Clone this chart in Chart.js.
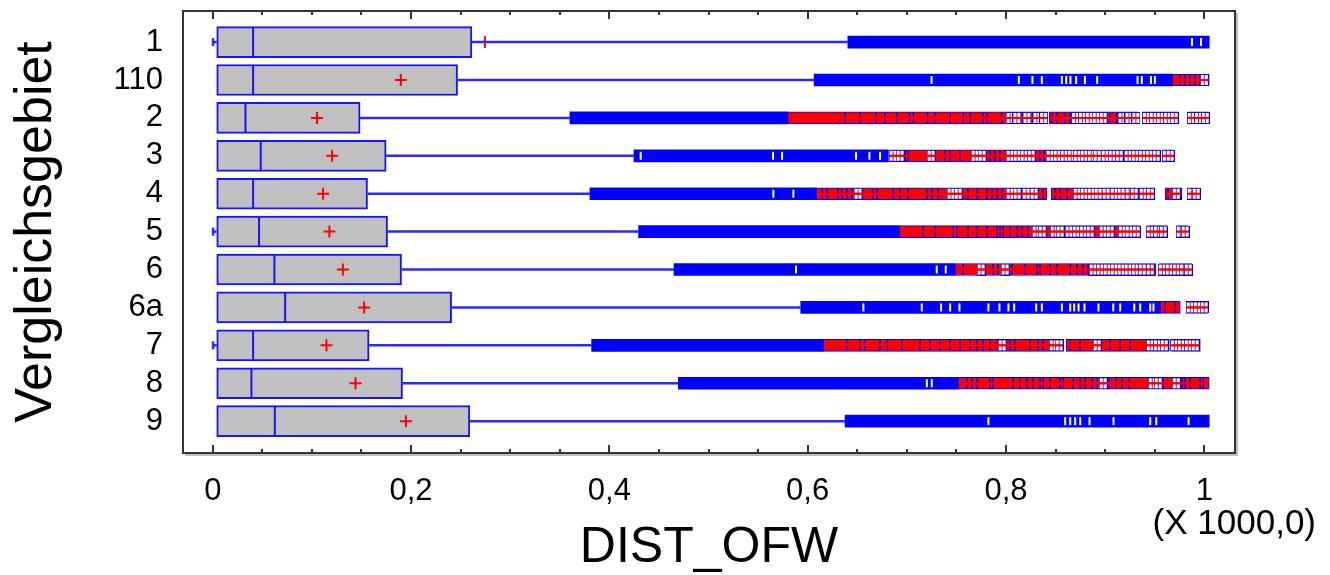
<!DOCTYPE html>
<html>
<head>
<meta charset="utf-8">
<script src="https://cdn.jsdelivr.net/npm/chart.js@4.4.1/dist/chart.umd.min.js"></script>
<style>
  html, body { margin: 0; padding: 0; background: #fff; }
  #c { display: block; }
</style>
</head>
<body>
<canvas id="c" width="1330" height="575"></canvas>
<script>
// ---------------- DATA (values in metres; axis shows X 1000) ----------------
const categories = ['1', '110', '2', '3', '4', '5', '6', '6a', '7', '8', '9'];
const xTickValues = [0, 200, 400, 600, 800, 1000];
const minVal    = [0.3, 4, 4, 4, 4, 0.3, 4, 4, 0.3, 4, 4];
const q1        = [4, 4, 4, 4, 4, 4, 4, 4, 4, 4, 4];
const median    = [40.7, 40.7, 33, 48.4, 40.7, 46.7, 62.2, 73, 40.7, 39, 62.6];
const q3        = [261.4, 246.9, 148.6, 174.9, 156.1, 176.3, 190.4, 240.9, 157.7, 191.4, 259.3];
const mean      = [274.5, 189.7, 105.2, 120.4, 111.3, 117.7, 131.2, 152.7, 114.7, 144, 194.8];
const whiskerHi = [640.5, 606.5, 360.2, 424.8, 380.4, 429.5, 465.2, 593, 382.1, 469.6, 637.7];
const outEnd    = [1005, 967.7, 579.9, 681.4, 608.5, 692.5, 748.7, 955.6, 615.9, 752, 1005];

const farSegs = [
  [],
  [[967.7, 1005]],
  [[580, 841.3], [843.6, 932.7], [937.8, 974.1], [983.6, 1005]],
  [[683.1, 866.5], [868.1, 894.3], [896.9, 917.3], [920.3, 955.6], [958.6, 968.7]],
  [[608.5, 841.3], [845.6, 931.1], [933.7, 950.3], [960.6, 977.5], [983.6, 994.2]],
  [[692.5, 935.4], [942.2, 962.2], [972.4, 983.5]],
  [[748.7, 951.3], [954.6, 987.6]],
  [[955.6, 975.8], [981.8, 1003.3]],
  [[615.9, 858], [860.7, 964.7], [966.7, 996]],
  [[752, 1005]],
  []
];

const whiteGaps = [
  [987.6, 996.7],
  [725, 813, 826.7, 836.2, 856.4, 860.8, 865, 870.8, 879.6, 892, 932.7, 937, 946.2, 950.2],
  [],
  [431.6, 565.1, 574.2, 648.8, 662.3, 673],
  [565.4, 585.6],
  [],
  [588.3, 730.2, 739.3],
  [656.2, 715.1, 734.6, 743.7, 753.1, 782.3, 793.4, 802.5, 808.3, 830.5, 836.2, 856.4, 864.8, 868.8, 873.2, 879.2, 893.3, 908.2, 915.2, 929.4, 935.4, 945.5, 948.8],
  [],
  [720.2, 725.2],
  [782.3, 859.7, 864.8, 869.8, 874.9, 884.3, 908.5, 945.5, 951.6, 984.2]
];

const blueStripes = [
  [],
  [975.7, 980.8, 985.8, 990.9, 995.9],
  [637.7, 652.9, 668.7, 678, 690, 702.6, 706.7, 720.8, 728.6, 743.7, 757.1, 763.9, 776.7, 780.7, 795.9, 846.3, 851.3, 859.7, 864.8, 905.1, 911.9],
  [698.3, 701.3, 738.6, 743.6, 753.7, 784, 789, 794.1, 834.4, 838.5],
  [614.5, 619.5, 630.6, 634.7, 639.7, 644.8, 665.9, 670, 686.1, 693.2, 701.3, 720.4, 725.5, 731.5, 761.8, 770.9, 781, 786, 791.1, 796.1, 837.5, 849.6, 854.6, 861.7, 963.6, 968.6],
  [716.4, 728.5, 746.7, 750.7, 761.8, 770.9, 781, 791.1, 794.1, 797.1, 804.2, 811.2, 816.3, 822.3],
  [756.8, 773.9, 778.9, 787, 792.1, 801.1, 806.2, 819.3, 831.4, 834.4, 844.5, 851.6, 864.8, 871.8, 877.9, 882.9],
  [960.6, 970.7],
  [639.7, 652.8, 657.9, 673, 680.1, 695.2, 713.4, 723.5, 733.6, 743.7, 753.8, 763.9, 771, 777, 784.1, 792.2, 804.2, 809.3, 824.4, 832.5, 837.5, 864.7, 874.8, 905.1, 915.2, 925.3],
  [760.8, 765.8, 770.9, 784, 787, 807.2, 814.2, 821.3, 827.4, 834.4, 837.5, 844.5, 854.6, 857.7, 867.8, 874.8, 879.9, 886.9, 892, 904.2, 911.2, 917.3, 924.3, 958.6, 977.7, 980.8, 985.8, 995.9, 998.9],
  []
];

const farMarks = [
  [],
  [1000],
  [804.2, 811, 821.1, 831.2, 838, 870, 877, 884, 891, 898, 917, 924, 931, 941.5, 948.5, 955.6, 962.7, 969.7, 986.9, 994, 1001],
  [686.1, 693.2, 724.5, 768.9, 775.9, 804.2, 811.2, 818.3, 825.4, 844.5, 851.6, 858.7, 865.7, 871.8, 878.8, 885.9, 892, 900, 907.1, 914.2, 923.2, 930.3, 937.4, 944.4, 951.5, 961.6, 965.6],
  [650.8, 744.6, 751.7, 804.2, 811.2, 820.3, 828.4, 871.8, 878.8, 885.9, 892.9, 901, 909.1, 916.1, 924.2, 929.3, 938.4, 945.5, 971.7, 986.8, 991.8],
  [830.4, 836.5, 848.6, 854.6, 863.7, 870.8, 877.9, 884.9, 898, 905.1, 917.2, 924.2, 931.3, 945.5, 952.6, 958.6, 975.7, 980.7],
  [774.9, 799.1, 887.9, 895, 902, 909.1, 916.1, 923.2, 930.3, 937.4, 945.5, 957.6, 964.6, 971.7, 978.7, 983.8],
  [985.8, 992.9, 999.9],
  [796.1, 847.6, 853.6, 892, 945.5, 952.6, 959.6, 969.7, 976.7, 983.8, 990.8],
  [898, 947.5, 953.5, 971.7],
  []
];

// ---------------- helpers building library data from the arrays ----------------
const FONT = '"Liberation Sans", Arial, sans-serif';
const BLUE = '#0000ff', RED = '#ff0000';

function pointsFrom(lists) {
  const out = [];
  lists.forEach((arr, i) => arr.forEach(v => out.push({ x: v, y: i })));
  return out;
}

function makeFarMarker() {
  const c = document.createElement('canvas');
  c.width = 9; c.height = 12;
  const g = c.getContext('2d');
  g.fillStyle = '#ffffff'; g.fillRect(0, 0, 9, 12);
  g.strokeStyle = BLUE; g.lineWidth = 1; g.strokeRect(0.5, 0.5, 8, 11);
  g.fillStyle = RED; g.fillRect(4, 1, 1, 10); g.fillRect(1, 5, 7, 2);
  return c;
}

const maxSegs = Math.max(...farSegs.map(s => s.length));
const segDatasets = [];
for (let k = 0; k < maxSegs; k++) {
  const data = [];
  farSegs.forEach((segs, i) => { if (segs[k]) data.push({ x: segs[k], y: i }); });
  segDatasets.push({
    type: 'bar', data, grouped: false, barThickness: 12,
    backgroundColor: RED, borderColor: BLUE, borderWidth: 1, borderSkipped: false, order: 7
  });
}

const datasets = [
  { type: 'bar', label: 'box', data: categories.map((c, i) => ({ x: [q1[i], q3[i]], y: i })),
    grouped: false, barThickness: 31, backgroundColor: '#c0c0c0', borderColor: '#1414ff',
    borderWidth: 2, borderSkipped: false, order: 10 },
  { type: 'bar', label: 'outside', data: categories.map((c, i) => ({ x: [whiskerHi[i], outEnd[i]], y: i })),
    grouped: false, barThickness: 12, backgroundColor: BLUE, borderWidth: 0, order: 9 },
  { type: 'scatter', label: 'gaps', data: pointsFrom(whiteGaps), pointStyle: 'line', rotation: 90,
    radius: 4, borderColor: '#ffffff', borderWidth: 2, order: 8 },
  ...segDatasets,
  { type: 'scatter', label: 'stripes', data: pointsFrom(blueStripes), pointStyle: 'line', rotation: 90,
    radius: 5.5, borderColor: BLUE, borderWidth: 1.5, order: 6 },
  { type: 'scatter', label: 'far', data: pointsFrom(farMarks), pointStyle: makeFarMarker(), radius: 5, order: 5 },
  { type: 'scatter', label: 'mean', data: mean.map((v, i) => ({ x: v, y: i })), pointStyle: 'cross',
    radius: 6, borderColor: RED, borderWidth: 2, order: 1 }
];

const extras = {
  id: 'boxExtras',
  afterDatasetsDraw(chart) {
    const { ctx, scales: { x, y } } = chart;
    ctx.save();
    ctx.strokeStyle = RED; ctx.lineWidth = 2;
    farSegs.forEach((segs, i) => {
      const yy = y.getPixelForValue(i);
      segs.forEach(([a, b]) => {
        ctx.beginPath(); ctx.moveTo(x.getPixelForValue(a) + 1, yy); ctx.lineTo(x.getPixelForValue(b) - 1, yy); ctx.stroke();
      });
    });
    ctx.strokeStyle = '#2a2aff'; ctx.lineWidth = 2.5;
    categories.forEach((c, i) => {
      const yy = y.getPixelForValue(i);
      ctx.beginPath(); ctx.moveTo(x.getPixelForValue(q3[i]), yy); ctx.lineTo(x.getPixelForValue(whiskerHi[i]), yy); ctx.stroke();
      if (minVal[i] < q1[i] - 1) {
        const xm = x.getPixelForValue(minVal[i]);
        ctx.beginPath(); ctx.moveTo(xm, yy); ctx.lineTo(x.getPixelForValue(q1[i]), yy); ctx.stroke();
        ctx.beginPath(); ctx.moveTo(xm, yy - 4); ctx.lineTo(xm, yy + 4); ctx.stroke();
      }
    });
    ctx.strokeStyle = '#1414ff'; ctx.lineWidth = 2;
    categories.forEach((c, i) => {
      const yy = y.getPixelForValue(i), xm = x.getPixelForValue(median[i]);
      ctx.beginPath(); ctx.moveTo(xm, yy - 14.5); ctx.lineTo(xm, yy + 14.5); ctx.stroke();
    });
    ctx.restore();
  },
  afterDraw(chart) {
    const { ctx, chartArea: { left, right, top, bottom }, scales: { x } } = chart;
    ctx.save();
    ctx.strokeStyle = '#a8a8a8'; ctx.lineWidth = 1.5;
    ctx.beginPath(); ctx.moveTo(left + 2, bottom + 2); ctx.lineTo(right + 2, bottom + 2); ctx.lineTo(right + 2, top + 2); ctx.stroke();
    ctx.strokeStyle = '#333333'; ctx.lineWidth = 2;
    ctx.strokeRect(left, top, right - left, bottom - top);
    ctx.lineWidth = 2;
    for (let v = 0; v <= 1000; v += 50) {
      const px = Math.round(x.getPixelForValue(v));
      const len = (v % 200 === 0) ? 8 : 4;
      ctx.beginPath();
      ctx.moveTo(px, top); ctx.lineTo(px, top + len);
      ctx.moveTo(px, bottom); ctx.lineTo(px, bottom - len);
      ctx.stroke();
    }
    ctx.fillStyle = '#000';
    ctx.font = '35px ' + FONT;
    ctx.textAlign = 'right'; ctx.textBaseline = 'middle';
    ctx.fillText('(X 1000,0)', 1316, 524);
    ctx.restore();
  }
};

Chart.defaults.font.family = FONT;
Chart.defaults.color = '#000';

new Chart(document.getElementById('c'), {
  type: 'bar',
  data: { datasets },
  options: {
    indexAxis: 'y',
    responsive: false,
    animation: false,
    layout: { padding: { top: 11, right: 95, bottom: 0, left: 0 } },
    plugins: { legend: { display: false }, tooltip: { enabled: false } },
    scales: {
      x: {
        type: 'linear', min: -30, max: 1031, offset: false,
        grid: { display: false, drawTicks: false },
        border: { display: false },
        afterBuildTicks: s => { s.ticks = xTickValues.map(v => ({ value: v })); },
        ticks: {
          autoSkip: false, maxRotation: 0, padding: 20,
          font: { size: 31 }, color: '#000',
          callback: v => String(v / 1000).replace('.', ',')
        },
        title: { display: true, text: 'DIST_OFW', color: '#000',
          font: { size: 50, lineHeight: 1 }, padding: { top: 0, bottom: 2 } },
        afterFit: s => { s.height = 122; s.paddingLeft = 0; s.paddingRight = 0; }
      },
      y: {
        type: 'linear', reverse: true, min: -0.82, max: 10.84, offset: false,
        grid: { display: false, drawTicks: false, offset: false },
        border: { display: false },
        afterBuildTicks: s => { s.ticks = categories.map((c, i) => ({ value: i })); },
        ticks: { autoSkip: false, padding: 20, font: { size: 31 }, color: '#000',
          callback: v => categories[v] },
        title: { display: true, text: 'Vergleichsgebiet', color: '#000',
          font: { size: 52, lineHeight: 1 }, padding: { top: 11, bottom: 0 } },
        afterFit: s => { s.width = 183; s.paddingTop = 0; s.paddingBottom = 0; }
      }
    }
  },
  plugins: [extras]
});
</script>
</body>
</html>
